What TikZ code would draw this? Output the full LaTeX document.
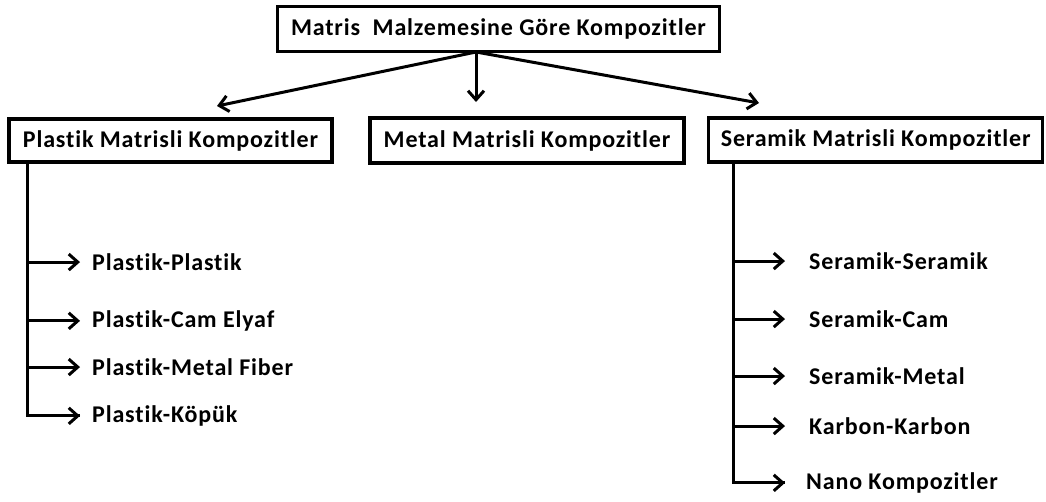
\documentclass[tikz,border=0pt]{standalone}
\usepackage{fontspec}
\setmainfont[Ligatures=NoCommon, LetterSpace=3.5]{Carlito}
\usepackage{tikz}
\usetikzlibrary{arrows.meta}
\tikzstyle{category} = [rectangle, draw, line width=3.2pt, text centered, inner sep=0pt, font=\bfseries\fontsize{24}{28}\selectfont]
\tikzstyle{item} = [anchor=mid west, inner sep=0pt, font=\bfseries\fontsize{24}{28}\selectfont]
\tikzstyle{connector} = [draw, line width=3pt, -{Straight Barb[length=9pt,width=16pt]}]
\tikzstyle{trunk} = [draw, line width=3pt]
\tikzstyle{plasticLink} = [connector, shorten >=12pt]
\tikzstyle{ceramicLink} = [connector, shorten >=24pt]

\begin{document}
\begin{tikzpicture}[x=1pt, y=-1pt]
\useasboundingbox (0,0) rectangle (1046,501);

\node[category, minimum width=442, minimum height=45] at (498.5,29.2) (root) {Matris\ \ Malzemesine Göre Kompozitler};

\node[category, minimum width=323, minimum height=43] at (170.5,140.5) (plastic) {Plastik Matrisli Kompozitler};
\node[category, minimum width=314, minimum height=45] at (527,140.5) (metal) {Metal Matrisli Kompozitler};
\node[category, minimum width=334, minimum height=44] at (875.7,140) (ceramic) {Seramik Matrisli Kompozitler};

\coordinate (rootOut) at (476,52);
\coordinate (plasticIn) at (217,106);
\coordinate (metalIn) at (476,102);
\coordinate (ceramicIn) at (759,103);

\path [connector] (rootOut) -- (plasticIn);
\path [connector] (rootOut) -- (metalIn);
\path [connector] (rootOut) -- (ceramicIn);


\node[item] at (92,268) (plasticPlastic) {Plastik-Plastik};
\node[item] at (92,325) (plasticGlass) {Plastik-Cam Elyaf};
\node[item] at (92,373) (plasticMetal) {Plastik-Metal Fiber};
\node[item] at (92,420) (plasticFoam) {Plastik-Köpük};

\coordinate (plasticTrunk) at (27,162);
\path [trunk] (plasticTrunk) |- ([xshift=-12pt]plasticFoam.west);
\path [plasticLink] (plasticTrunk |- plasticPlastic) -- (plasticPlastic);
\path [plasticLink] (plasticTrunk |- plasticGlass) -- (plasticGlass);
\path [plasticLink] (plasticTrunk |- plasticMetal) -- (plasticMetal);
\path [plasticLink] (plasticTrunk |- plasticFoam) -- (plasticFoam);


\node[item] at (809,267) (ceramicCeramic) {Seramik-Seramik};
\node[item] at (809,325) (ceramicGlass) {Seramik-Cam};
\node[item] at (809,382) (ceramicMetal) {Seramik-Metal};
\node[item] at (809,432) (carbonCarbon) {Karbon-Karbon};
\node[item] at (806,487) (nanoComposite) {Nano Kompozitler};

\coordinate (ceramicTrunk) at (733,160);
\path [trunk] (ceramicTrunk) |- ([xshift=-21pt]nanoComposite.west);
\path [ceramicLink] (ceramicTrunk |- ceramicCeramic) -- (ceramicCeramic);
\path [ceramicLink] (ceramicTrunk |- ceramicGlass) -- (ceramicGlass);
\path [ceramicLink] (ceramicTrunk |- ceramicMetal) -- (ceramicMetal);
\path [ceramicLink] (ceramicTrunk |- carbonCarbon) -- (carbonCarbon);
\path [ceramicLink, shorten >=21pt] (ceramicTrunk |- nanoComposite) -- (nanoComposite);

\end{tikzpicture}
\end{document}
